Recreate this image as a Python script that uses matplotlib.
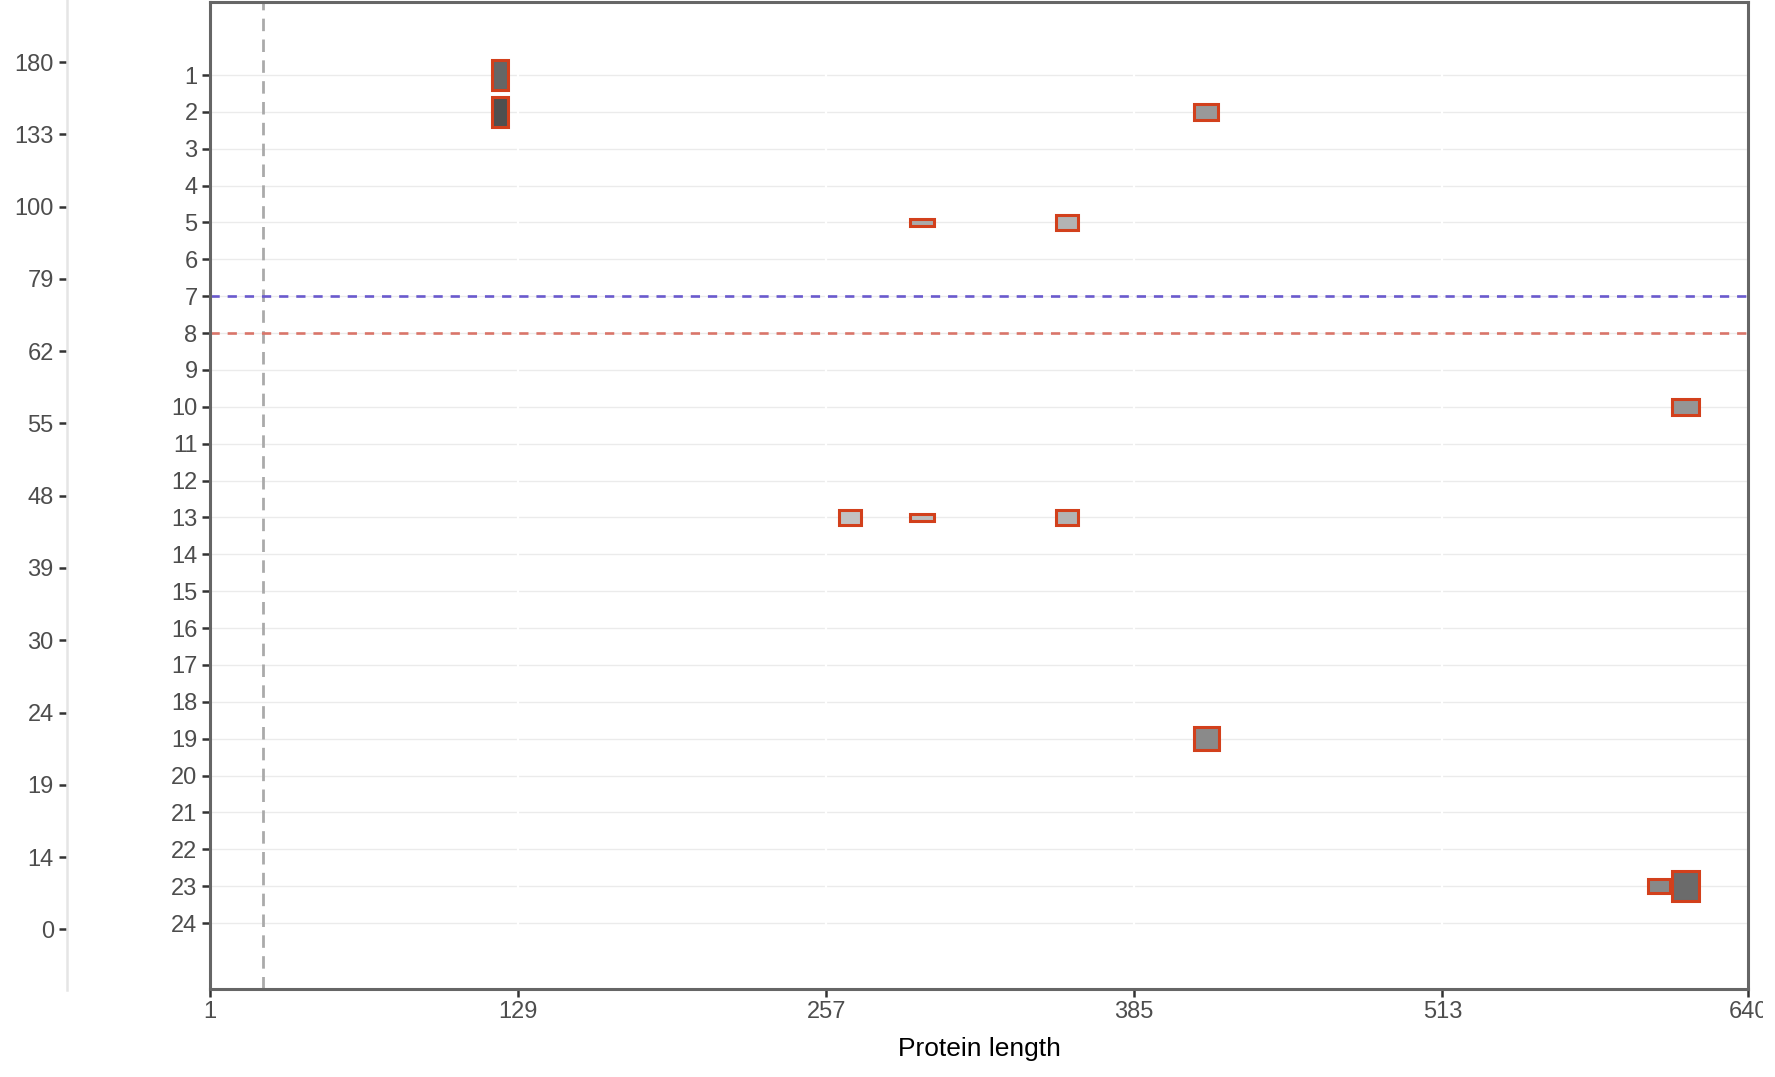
import matplotlib.pyplot as plt
from matplotlib.transforms import Bbox, TransformedBbox

plt.rcParams["font.family"] = ["Liberation Sans", "DejaVu Sans"]

# left scale (score axis)
score_labels = ["0", "14", "19", "24", "30", "39", "48", "55", "62", "79", "100", "133", "180"]

# main panel
row_labels = [str(i) for i in range(1, 25)]
x_ticks = [1, 129, 257, 385, 513, 640]
signal_pos = 23
blue_line_row = 7
red_line_row = 8

# feature boxes
box_rows = [1, 2, 2, 5, 5, 10, 13, 13, 13, 19, 23, 23]
box_centers = [121.5, 121.5, 415, 297, 357, 614, 267, 297, 357, 415, 603, 614]
box_widths = [7, 7, 10, 10, 9, 11, 9, 10, 9, 10.5, 9, 11]
box_heights = [0.83, 0.8, 0.42, 0.2, 0.39, 0.42, 0.42, 0.2, 0.39, 0.64, 0.39, 0.8]
box_shades = ["#666666", "#4f4f4f", "#999999", "#aaaaaa", "#b3b3b3", "#959595",
              "#c2c2c2", "#bdbdbd", "#b3b3b3", "#8a8a8a", "#888888", "#6b6b6b"]

W, H = 1775, 1077
fig = plt.figure(figsize=(W / 100, H / 100), dpi=100)

# left score axis
ax0 = fig.add_axes([67 / W, 87 / H, 0.001, 1 - 87 / H])
ax0.set_ylim(-0.84, 12.86)
ax0.set_yticks(range(len(score_labels)))
ax0.set_yticklabels(score_labels)
ax0.set_xticks([])
for s in ["top", "right", "bottom"]:
    ax0.spines[s].set_visible(False)
ax0.spines["left"].set_color("#e5e5e5")
ax0.spines["left"].set_linewidth(1.8)
ax0.tick_params(axis="y", length=5.5, width=1.8, color="#333333", pad=4,
                labelsize=17, labelcolor="#4d4d4d")
ax0.patch.set_visible(False)

# main panel
ax = fig.add_axes([210 / W, 88 / H, (1748 - 210) / W, (1075 - 88) / H])
ax.set_xlim(1, 640)
ax.set_ylim(25.79, -0.98)

for r in range(1, 25):
    ax.axhline(r, color="#ebebeb", lw=1, zorder=0.5)
for xt in x_ticks:
    ax.axvline(xt, color="white", lw=1.6, zorder=0.6)

ax.axvline(signal_pos, color="#aaaaaa", lw=2, ls=(0, (4.5, 3)), zorder=1)
ax.axhline(blue_line_row, color="#6a5acd", lw=1.9, ls=(0, (3.5, 3)), zorder=1)
ax.axhline(red_line_row, color="#d9756a", lw=1.9, ls=(0, (3.5, 3)), zorder=1)

bottoms = [r - h / 2 for r, h in zip(box_rows, box_heights)]
ax.bar(box_centers, box_heights, width=box_widths, bottom=bottoms,
       color=box_shades, edgecolor="#d2401c", linewidth=2.2, zorder=3)

ax.set_yticks(range(1, 25))
ax.set_yticklabels(row_labels)
ax.set_xticks(x_ticks)
ax.set_xticklabels([str(x) for x in x_ticks])
ax.tick_params(length=5.5, width=1.8, color="#333333", pad=3.5,
               labelsize=17, labelcolor="#4d4d4d")
ax.set_xlabel("Protein length", fontsize=19, color="black", labelpad=10)
for s in ax.spines.values():
    s.set_color("#666666")
    s.set_linewidth(2.2)

clip = TransformedBbox(Bbox([[0, 0], [1763 / W, 1]]), fig.transFigure)
for t in ax.xaxis.get_major_ticks():
    t.label1.set_clip_box(clip)
    t.label1.set_clip_on(True)

fig.savefig("out.png", dpi=100)
